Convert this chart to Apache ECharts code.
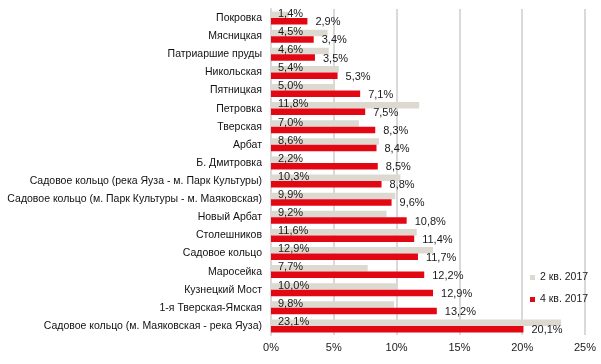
<!DOCTYPE html>
<html><head><meta charset="utf-8">
<script src="https://cdn.jsdelivr.net/npm/echarts@6/dist/echarts.min.js"></script>
<style>html,body{margin:0;padding:0;background:#fff}#c{width:601px;height:364px}</style>
</head><body><div id="c"></div>
<script>
const categories = ['Покровка','Мясницкая','Патриаршие пруды','Никольская','Пятницкая','Петровка','Тверская','Арбат','Б. Дмитровка','Садовое кольцо (река Яуза - м. Парк Культуры)','Садовое кольцо (м. Парк Культуры - м. Маяковская)','Новый Арбат','Столешников','Садовое кольцо','Маросейка','Кузнецкий Мост','1-я Тверская-Ямская','Садовое кольцо (м. Маяковская - река Яуза)'];
const q2_2017 = [1.4,4.5,4.6,5.4,5.0,11.8,7.0,8.6,2.2,10.3,9.9,9.2,11.6,12.9,7.7,10.0,9.8,23.1];
const q4_2017 = [2.9,3.4,3.5,5.3,7.1,7.5,8.3,8.4,8.5,8.8,9.6,10.8,11.4,11.7,12.2,12.9,13.2,20.1];
const seriesNames = ['2 кв. 2017','4 кв. 2017'];
const xTicks = [0,5,10,15,20,25];

const fmt = v => v.toFixed(1).replace('.', ',') + '%';
const font = 'Liberation Sans, Arial, sans-serif';
const chart = echarts.init(document.getElementById('c'));
chart.setOption({
  animation:false,
  grid:{left:271,right:16,top:9,bottom:29,containLabel:false},
  legend:{orient:'vertical',left:525,top:267,itemWidth:5,itemHeight:5,itemGap:11,
    icon:'rect',textStyle:{fontFamily:font,fontSize:10.5,color:'#1a1a1a'},data:seriesNames},
  xAxis:{type:'value',min:xTicks[0],max:xTicks[xTicks.length-1],interval:5,
    axisLabel:{formatter:v=>v+'%',fontFamily:font,fontSize:11,color:'#1a1a1a',margin:7},
    axisLine:{show:false},axisTick:{show:false},
    splitLine:{show:true,lineStyle:{color:'#d9d9d9',width:2}}},
  yAxis:{type:'category',inverse:true,data:categories,
    axisLabel:{fontFamily:font,fontSize:10.5,color:'#111',margin:9},
    axisLine:{show:true,lineStyle:{color:'#d9d9d9',width:2}},axisTick:{show:false}},
  series:[
    {name:seriesNames[0],type:'bar',data:q2_2017,barWidth:6.5,barGap:'0%',
     itemStyle:{color:'#ddd9d0'},
     label:{show:true,position:'insideLeft',distance:7,offset:[0,-1],formatter:p=>fmt(p.value),
       fontFamily:font,fontSize:11,color:'#1a1a1a'}},
    {name:seriesNames[1],type:'bar',data:q4_2017,barWidth:6.5,barGap:'0%',
     itemStyle:{color:'#e30613'},
     label:{show:true,position:'right',distance:8,offset:[0,1],formatter:p=>fmt(p.value),
       fontFamily:font,fontSize:11,color:'#1a1a1a'}}
  ]
});
</script></body></html>
